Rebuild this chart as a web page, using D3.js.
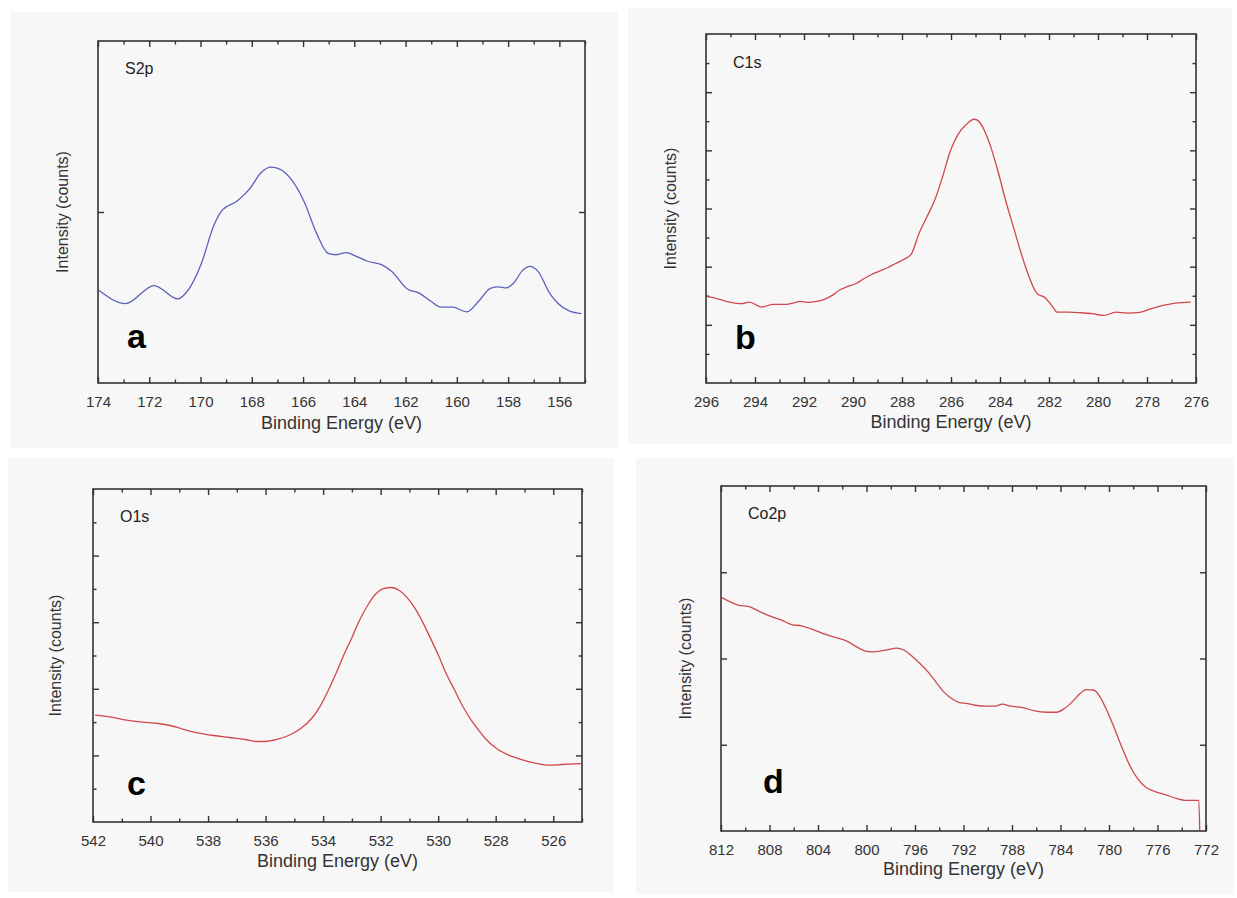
<!DOCTYPE html>
<html><head><meta charset="utf-8">
<script src="https://cdn.jsdelivr.net/npm/d3@7"></script>
<style>body{margin:0;background:#fff}svg{display:block}</style>
</head><body>
<svg id="chart" width="1237" height="898"></svg>
<script>
// ---------- DATA ----------
const s2pEnergy = [173.97,172.92,171.81,170.88,170.57,169.96,169.49,169.19,168.57,168.10,167.64,167.26,166.87,166.41,165.94,165.48,165.02,164.71,164.32,163.94,163.48,162.94,162.55,161.93,161.47,161.01,160.62,160.16,159.62,159.15,158.69,158.38,158.07,157.77,157.46,157.15,156.84,156.38,156.07,155.60,155.14];
const s2pIntensity = [271,232,285,246,263,351,459,502,532,566,615,631,624,590,527,439,379,375,381,371,356,346,327,275,263,239,222,222,208,239,277,281,278,293,327,341,327,263,234,210,203];
const s2pXTicks = [174,172,170,168,166,164,162,160,158,156];

const c1sEnergy = [295.97,295.52,295.03,294.55,294.23,293.99,293.75,293.26,292.78,292.46,292.14,291.82,291.49,291.17,290.85,290.53,290.21,289.89,289.56,289.24,288.92,288.60,288.28,287.95,287.63,287.31,286.99,286.67,286.35,286.02,285.70,285.38,285.06,284.90,284.74,284.42,284.09,283.77,283.45,283.13,282.81,282.48,282.16,281.84,281.68,281.20,280.71,280.23,279.75,279.27,278.78,278.30,277.82,277.34,276.85,276.21];
const c1sIntensity = [1.489,1.448,1.391,1.363,1.391,1.351,1.305,1.351,1.351,1.374,1.403,1.385,1.403,1.437,1.506,1.603,1.660,1.706,1.792,1.866,1.924,1.981,2.050,2.118,2.210,2.565,2.851,3.137,3.538,3.996,4.282,4.443,4.534,4.511,4.425,4.111,3.653,3.137,2.679,2.221,1.821,1.534,1.466,1.305,1.219,1.219,1.208,1.191,1.162,1.219,1.202,1.214,1.277,1.334,1.374,1.391];
const c1sXTicks = [296,294,292,290,288,286,284,282,280,278,276];

const o1sEnergy = [541.93,541.38,540.83,540.28,539.73,539.32,538.91,538.36,537.81,537.26,536.71,536.30,536.02,535.61,535.20,534.79,534.38,534.10,533.83,533.55,533.28,533.00,532.73,532.45,532.18,531.90,531.63,531.35,531.08,530.80,530.53,530.26,529.98,529.71,529.43,529.16,528.88,528.61,528.33,527.92,527.51,527.10,526.68,526.13,525.72,525.04];
const o1sIntensity = [1.605,1.575,1.530,1.500,1.479,1.449,1.399,1.339,1.299,1.269,1.239,1.209,1.209,1.239,1.299,1.399,1.565,1.740,1.966,2.232,2.508,2.768,3.034,3.255,3.420,3.505,3.521,3.475,3.370,3.205,2.994,2.753,2.492,2.217,1.981,1.750,1.550,1.389,1.239,1.088,0.998,0.938,0.888,0.853,0.863,0.878];
const o1sXTicks = [542,540,538,536,534,532,530,528,526];

const co2pEnergy = [811.97,811.25,810.60,809.62,808.67,807.66,807.01,806.19,805.38,804.40,803.42,802.44,801.62,800.81,800.15,799.50,798.85,798.20,797.54,796.89,796.24,795.59,794.93,794.28,793.63,792.98,792.33,791.67,791.02,790.04,789.39,788.80,788.08,787.11,786.13,785.15,784.33,783.68,783.03,782.38,781.89,781.23,780.74,780.25,779.60,778.95,778.30,777.64,776.99,776.34,775.36,774.38,773.73,772.59,772.52];
const co2pIntensity = [2.708,2.657,2.619,2.599,2.534,2.476,2.445,2.394,2.379,2.336,2.282,2.240,2.201,2.135,2.089,2.077,2.085,2.104,2.120,2.096,2.027,1.942,1.845,1.729,1.613,1.536,1.489,1.478,1.458,1.447,1.447,1.470,1.447,1.431,1.392,1.377,1.377,1.420,1.497,1.594,1.640,1.632,1.555,1.420,1.207,0.975,0.762,0.607,0.511,0.464,0.422,0.375,0.356,0.356,0.008];
const co2pXTicks = [812,808,804,800,796,792,788,784,780,776,772];

const titles = ["S2p","C1s","O1s","Co2p"];
const letters = ["a","b","c","d"];
const xTitle = "Binding Energy (eV)";
const yTitle = "Intensity (counts)";

// ---------- LAYOUT ----------
const panels = [
  {E:s2pEnergy, I:s2pIntensity, xt:s2pXTicks, xd:[174,155], xminor:1, yd:[0,1000], ymaj:[500], ymin:[],
   box:{l:98,r:585,t:41,b:383}, title:[125,74], letter:[127,348], ylx:62, xlb:429, color:"#5b60bd", bg:[10,12,608,436]},
  {E:c1sEnergy, I:c1sIntensity, xt:c1sXTicks, xd:[296,276], xminor:1, yd:[0,6], ymaj:[1,2,3,4,5], ymin:[0.5,1.5,2.5,3.5,4.5,5.5],
   box:{l:706,r:1196,t:34,b:383}, title:[733,68], letter:[735,349], ylx:670, xlb:428, color:"#d2474c", bg:[628,8,604,436]},
  {E:o1sEnergy, I:o1sIntensity, xt:o1sXTicks, xd:[542,525], xminor:1, yd:[0,5], ymaj:[1,2,3,4], ymin:[0.5,1.5,2.5,3.5,4.5],
   box:{l:93,r:582,t:489,b:822}, title:[120,522], letter:[127,795], ylx:55, xlb:867, color:"#d2474c", bg:[8,458,606,434]},
  {E:co2pEnergy, I:co2pIntensity, xt:co2pXTicks, xd:[812,772], xminor:2, yd:[0,4], ymaj:[1,2,3], ymin:[],
   box:{l:721,r:1206,t:486,b:831}, title:[748,519], letter:[763,793], ylx:685, xlb:875, color:"#cc4a4d", bg:[636,458,598,436]}
];

const svg = d3.select("#chart");
svg.append("rect").attr("width",1237).attr("height",898).attr("fill","#ffffff");
const FONT = "'Liberation Sans', Arial, sans-serif";
const AX = "#333";

panels.forEach((p,i)=>{
  svg.append("rect").attr("x",p.bg[0]).attr("y",p.bg[1]).attr("width",p.bg[2]).attr("height",p.bg[3]).attr("fill","#f7f7f7");
  const x = d3.scaleLinear().domain(p.xd).range([p.box.l,p.box.r]);
  const y = d3.scaleLinear().domain(p.yd).range([p.box.b,p.box.t]);
  const g = svg.append("g");
  const minorX = d3.range(Math.ceil(Math.min(...p.xd)), Math.max(...p.xd)+0.001, p.xminor).filter(v=>!p.xt.includes(v));
  const W = p.box.r-p.box.l, H = p.box.b-p.box.t;

  function axis(gen, ticks, size, transform, labels){
    const a = g.append("g").attr("transform",transform)
      .call(gen.tickValues(ticks).tickSize(size).tickSizeOuter(0).tickFormat(labels?d3.format("d"):""));
    a.select(".domain").remove();
    a.selectAll("line").attr("stroke",AX).attr("stroke-width",1.4);
    a.selectAll("text").attr("font-family",FONT).attr("font-size",15).attr("fill","#333");
    return a;
  }
  const bx = axis(d3.axisBottom(x), p.xt, -6, `translate(0,${p.box.b})`, true);
  bx.selectAll("text").attr("y",13).attr("dy","0.71em");
  axis(d3.axisBottom(x), minorX, -3.5, `translate(0,${p.box.b})`, false);
  axis(d3.axisTop(x), p.xt, -6, `translate(0,${p.box.t})`, false);
  axis(d3.axisTop(x), minorX, -3.5, `translate(0,${p.box.t})`, false);
  axis(d3.axisLeft(y), p.ymaj, -6, `translate(${p.box.l},0)`, false);
  axis(d3.axisRight(y), p.ymaj, -6, `translate(${p.box.r},0)`, false);
  if(p.ymin.length){
    axis(d3.axisLeft(y), p.ymin, -3.5, `translate(${p.box.l},0)`, false);
    axis(d3.axisRight(y), p.ymin, -3.5, `translate(${p.box.r},0)`, false);
  }
  g.append("rect").attr("x",p.box.l).attr("y",p.box.t).attr("width",W).attr("height",H)
    .attr("fill","none").attr("stroke",AX).attr("stroke-width",1.6);
  const data = p.E.map((e,k)=>[e,p.I[k]]);
  g.append("path").datum(data)
    .attr("d", d3.line().x(d=>x(d[0])).y(d=>y(d[1])).curve(d3.curveMonotoneX))
    .attr("fill","none").attr("stroke",p.color).attr("stroke-width",1.3);
  g.append("text").attr("x",p.title[0]).attr("y",p.title[1]).text(titles[i])
    .attr("font-family",FONT).attr("font-size",16).attr("fill","#222");
  g.append("text").attr("x",p.letter[0]).attr("y",p.letter[1]).text(letters[i])
    .attr("font-family",FONT).attr("font-size",34).attr("font-weight","bold").attr("fill","#000");
  g.append("text").attr("x",(p.box.l+p.box.r)/2).attr("y",p.xlb).text(xTitle)
    .attr("text-anchor","middle").attr("font-family",FONT).attr("font-size",18).attr("fill","#333");
  g.append("text").attr("transform",`translate(${p.ylx},${(p.box.t+p.box.b)/2}) rotate(-90)`)
    .attr("text-anchor","middle").attr("dy","0.35em").text(yTitle)
    .attr("font-family",FONT).attr("font-size",16).attr("fill","#333");
});
</script>
</body></html>
